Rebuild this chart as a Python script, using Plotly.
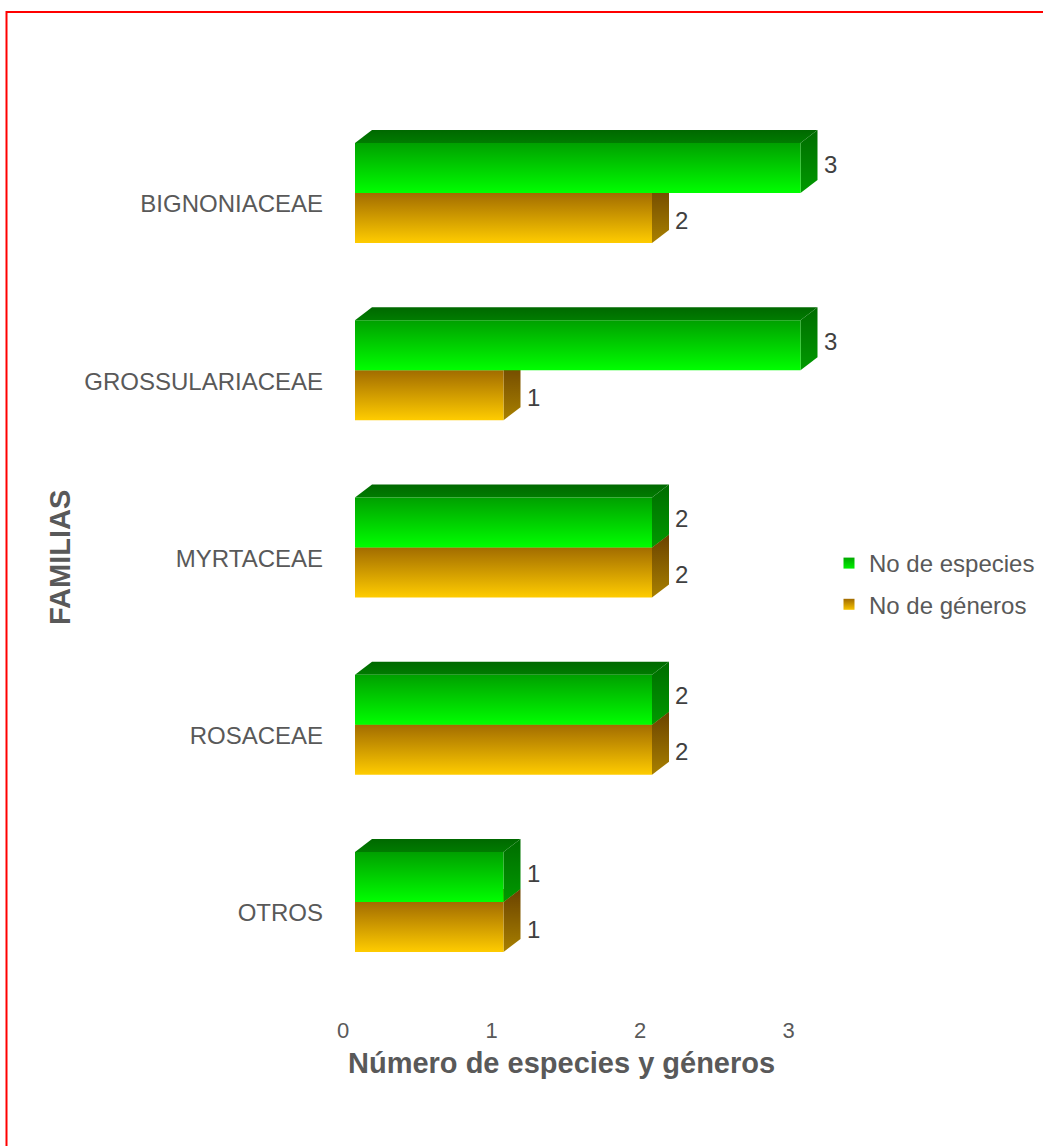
import plotly.graph_objects as go

# Families (bottom to top) and counts per family
familias = ["OTROS", "ROSACEAE", "MYRTACEAE", "GROSSULARIACEAE", "BIGNONIACEAE"]
especies = [1, 2, 2, 3, 3]
generos = [1, 2, 2, 1, 2]

series_names = ["No de especies", "No de géneros"]

TXT = "#595959"
FONT = "Arial, Liberation Sans, sans-serif"

# Page / plot-area layout in pixels
W, HT = 1043, 1146
ML, MR, MT, MB = 355, 20, 80, 146
PW = W - ML - MR
PH = HT - MT - MB
XS = 148.5        # pixels per unit along x
YS = 177.25       # pixels per category step


def px_x(p):
    return (p - ML) / PW


def px_y(p):
    return (HT - MB - p) / PH


# Bar geometry in axis units
H = 50 / YS        # height of each bar's front face
DX = 17 / XS       # depth offset (x)
DY = 13 / YS       # depth offset (y)

styles = {
    "green": dict(front=("#00a000", "#00ff00"), top=("#006800", "#007c00"),
                  side=("#006c00", "#009a00"), legend=("#00a800", "#00f000")),
    "orange": dict(front=("#a26c00", "#ffcc00"), top=("#8a5a00", "#a06c00"),
                   side=("#6a4200", "#a88000"), legend=("#a06a00", "#f8c400")),
}

fig = go.Figure()


def face(xs, ys, top_col, bot_col, y_lo, y_hi):
    fig.add_trace(go.Scatter(
        x=xs, y=ys, mode="lines", fill="toself",
        line=dict(width=0), hoverinfo="skip", showlegend=False,
        cliponaxis=False,
        fillgradient=dict(type="vertical", start=y_lo, stop=y_hi,
                          colorscale=[[0, bot_col], [1, top_col]]),
    ))


def box(v, y0, st):
    y1 = y0 + H
    # top face
    face([0, DX, v + DX, v, 0], [y1, y1 + DY, y1 + DY, y1, y1],
         st["top"][0], st["top"][1], y1, y1 + DY)
    # right side face
    face([v, v + DX, v + DX, v, v], [y0, y0 + DY, y1 + DY, y1, y0],
         st["side"][0], st["side"][1], y0, y1 + DY)
    # front face
    face([0, v, v, 0, 0], [y0, y0, y1, y1, y0],
         st["front"][0], st["front"][1], y0, y1)


for i, (e, g) in enumerate(zip(especies, generos)):
    box(g, i - H, styles["orange"])
    box(e, i, styles["green"])

# Legend entries
for name, key, grp in [(series_names[0], "green", "a"), (series_names[1], "orange", "b")]:
    top_c, bot_c = styles[key]["legend"]
    fig.add_trace(go.Scatter(
        x=[None], y=[None], mode="markers", name=name, legendgroup=grp,
        marker=dict(symbol="square", size=11, color=top_c,
                    gradient=dict(type="vertical", color=bot_c)),
    ))

# Value labels
annotations = []
for i, (e, g) in enumerate(zip(especies, generos)):
    annotations.append(dict(x=e, y=i + H / 2, xref="x", yref="y", text=str(e),
                            showarrow=False, xanchor="left", xshift=21, yshift=4,
                            font=dict(size=24, color="#404040", family=FONT)))
    annotations.append(dict(x=g, y=i - H / 2, xref="x", yref="y", text=str(g),
                            showarrow=False, xanchor="left", xshift=21, yshift=-2,
                            font=dict(size=24, color="#404040", family=FONT)))

# Axis titles
annotations.append(dict(x=px_x(561), y=px_y(1063), xref="paper", yref="paper",
                        text="<b>Número de especies y géneros</b>", showarrow=False,
                        xanchor="center", yanchor="middle",
                        font=dict(size=29, color=TXT, family=FONT)))
annotations.append(dict(x=px_x(60), y=px_y(558), xref="paper", yref="paper",
                        text="<b>FAMILIAS</b>", showarrow=False, textangle=-90,
                        xanchor="center", yanchor="middle",
                        font=dict(size=29, color=TXT, family=FONT)))

fig.update_layout(
    width=W, height=HT,
    margin=dict(l=ML, r=MR, t=MT, b=MB, autoexpand=False),
    paper_bgcolor="white", plot_bgcolor="white",
    font=dict(family=FONT, color=TXT),
    annotations=annotations,
    showlegend=True,
    legend=dict(x=px_x(829), y=px_y(541), xanchor="left", yanchor="top",
                font=dict(size=24, color=TXT, family=FONT), tracegroupgap=7,
                bgcolor="rgba(0,0,0,0)"),
    xaxis=dict(range=[0, PW / XS], tickvals=[0, 1, 2, 3], showgrid=False,
               zeroline=False, showline=False, ticks="", ticklabelshift=-12,
               ticklabelstandoff=15, tickfont=dict(size=22, color=TXT, family=FONT)),
    yaxis=dict(range=[-98 / YS, -98 / YS + PH / YS],
               tickvals=list(range(len(familias))), ticktext=familias,
               showgrid=False, zeroline=False, showline=False, ticks="",
               ticklabelshift=11, ticklabelstandoff=31,
               tickfont=dict(size=24, color=TXT, family=FONT)),
    shapes=[dict(type="rect", xref="paper", yref="paper",
                 x0=px_x(6.5), x1=px_x(1100), y0=px_y(1200), y1=px_y(12),
                 line=dict(color="#ff0000", width=2), fillcolor="rgba(0,0,0,0)",
                 layer="above")],
)

fig.write_html("out.html")
